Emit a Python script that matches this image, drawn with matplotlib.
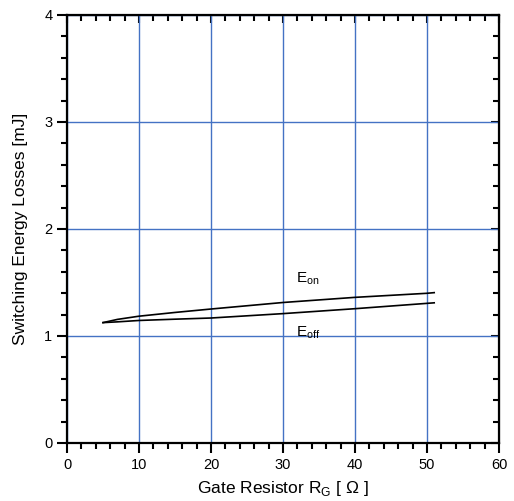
import numpy as np
import matplotlib
matplotlib.use("Agg")
import matplotlib.pyplot as plt
from matplotlib.ticker import MultipleLocator

plt.rcParams['font.family'] = ['Liberation Sans', 'DejaVu Sans']
plt.rcParams['mathtext.fontset'] = 'custom'
plt.rcParams['mathtext.rm'] = 'Liberation Sans'

# gate resistor [ohm] and switching losses [mJ]
rg = [5, 7, 10, 15, 20, 30, 40, 50, 51]
eon = [1.125, 1.155, 1.185, 1.22, 1.252, 1.313, 1.361, 1.399, 1.405]
eoff = [1.125, 1.132, 1.145, 1.157, 1.168, 1.209, 1.255, 1.305, 1.31]

fig = plt.figure(figsize=(5.14, 5.01), dpi=100)
ax = fig.add_axes([0.1304, 0.1158, 0.8404, 0.8543])

ax.plot(rg, eon, color='black', lw=1.2)
ax.plot(rg, eoff, color='black', lw=1.2)

ax.text(33.5, 1.54, r'E$_{\mathrm{on}}$', fontsize=11, ha='center', va='center')
ax.text(33.5, 1.03, r'E$_{\mathrm{off}}$', fontsize=11, ha='center', va='center')

ax.set_xlim(0, 60)
ax.set_ylim(0, 4)
ax.xaxis.set_major_locator(MultipleLocator(10))
ax.xaxis.set_minor_locator(MultipleLocator(2))
ax.yaxis.set_major_locator(MultipleLocator(1))
ax.yaxis.set_minor_locator(MultipleLocator(0.2))
ax.grid(True, which='major', color='#4472c4', lw=1.0)

for s in ax.spines.values():
    s.set_linewidth(1.6)

ax.tick_params(which='both', direction='out', width=1.5, labelsize=10.5,
               top=False, right=False)
ax.tick_params(which='major', length=7)
ax.tick_params(which='minor', length=4)

top = ax.secondary_xaxis('top')
top.xaxis.set_major_locator(MultipleLocator(10))
top.xaxis.set_minor_locator(MultipleLocator(2))
top.tick_params(which='both', direction='in', width=1.5, labeltop=False)
top.tick_params(which='major', length=6)
top.tick_params(which='minor', length=4)

right = ax.secondary_yaxis('right')
right.yaxis.set_major_locator(MultipleLocator(1))
right.yaxis.set_minor_locator(MultipleLocator(0.2))
right.tick_params(which='both', direction='in', width=1.5, labelright=False)
right.tick_params(which='major', length=6)
right.tick_params(which='minor', length=4)

ax.set_xlabel('Gate Resistor R$_{\\mathrm{G}}$ [ Ω ]', fontsize=12.5, labelpad=5)
ax.set_ylabel('Switching Energy Losses [mJ]', fontsize=12.5, labelpad=12)

fig.savefig('out.png', dpi=100)
